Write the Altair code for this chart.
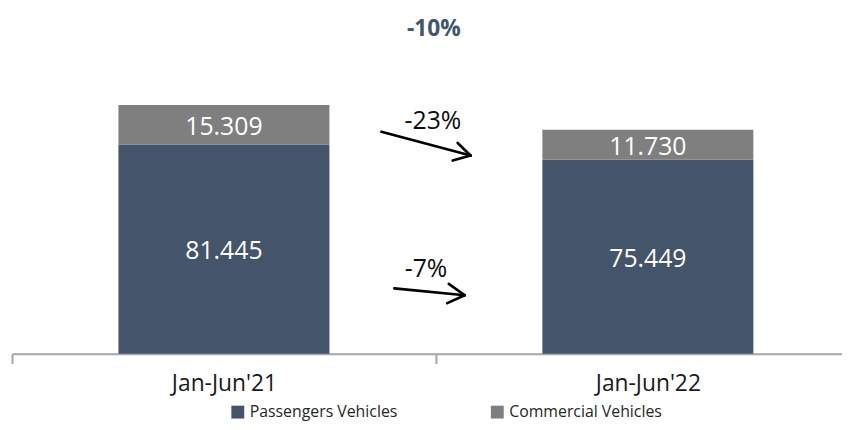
import json
import altair as alt
import pandas as pd

# ---- data ----
categories = ["Jan-Jun'21", "Jan-Jun'22"]
series_names = ["Passengers Vehicles", "Commercial Vehicles"]
passengers = [81445, 75449]
commercial = [15309, 11730]
total_change = "-10%"
segment_changes = ["-7%", "-23%"]  # passengers, commercial

# annotation anchors in data units (x: category units, y: vehicles)
arrow_x0 = [0.902, 0.8715]
arrow_y0 = [25443, 86352]
arrow_x1 = [1.068, 1.0818]
arrow_y1 = [22745, 77100]
head_a_x = [1.0304, 1.0514]
head_a_y = [27178, 81996]
head_b_x = [1.0269, 1.0397]
head_b_y = [19661, 75173]
change_label_x = [0.9766, 0.993]
change_label_y = [32768, 90593]
title_x = 0.9953
title_y = 126444

colors = ["#44546a", "#7f7f7f"]
FONT = "Open Sans"

rows = []
for i, cat in enumerate(categories):
    base = 0
    for j, (name, vals) in enumerate(zip(series_names, [passengers, commercial])):
        v = vals[i]
        rows.append(dict(category=cat, pos=i + 0.5, series=name, order=j,
                         lo=base, hi=base + v, mid=base + v / 2,
                         label=f"{v / 1000:.3f}"))
        base += v
bars_df = pd.DataFrame(rows)

seg_rows = []
for k in range(len(arrow_x0)):
    seg_rows.append(dict(x=arrow_x0[k], y=arrow_y0[k], x2=arrow_x1[k], y2=arrow_y1[k]))
    seg_rows.append(dict(x=head_a_x[k], y=head_a_y[k], x2=arrow_x1[k], y2=arrow_y1[k]))
    seg_rows.append(dict(x=head_b_x[k], y=head_b_y[k], x2=arrow_x1[k], y2=arrow_y1[k]))
seg_df = pd.DataFrame(seg_rows)

lab_df = pd.DataFrame(dict(x=change_label_x, y=change_label_y, text=segment_changes))
title_df = pd.DataFrame(dict(x=[title_x], y=[title_y], text=[total_change]))

W, H = 838, 343
xs = alt.Scale(domain=[0, W / 428], nice=False, zero=False, padding=0)
ys = alt.Scale(domain=[0, 132226], nice=False, padding=0)

label_expr = " : ".join(
    f"datum.value == {i} ? {json.dumps(c)}" for i, c in enumerate(categories)
) + " : ''"

bars = alt.Chart(bars_df).mark_bar(size=213).encode(
    x=alt.X("pos:Q", scale=xs,
            axis=alt.Axis(values=[0, 1], labelExpr=label_expr, title=None,
                          grid=False, domainColor="#a6a6a6", domainWidth=2,
                          tickColor="#a6a6a6", tickWidth=2, tickSize=10,
                          labelOffset=214, labelFlush=False, labelOverlap=False,
                          labelFont=FONT, labelFontSize=23, labelColor="#1a1a1a",
                          labelPadding=9, labelAlign="center", labelBaseline="top")),
    y=alt.Y("lo:Q", scale=ys, axis=None),
    y2="hi:Q",
    color=alt.Color("series:N",
                    scale=alt.Scale(domain=series_names, range=colors),
                    legend=alt.Legend(title=None, orient="none", legendX=220, legendY=394,
                                      direction="horizontal", symbolType="square",
                                      symbolSize=169, symbolStrokeWidth=0,
                                      labelFont=FONT, labelFontSize=16,
                                      labelColor="#262626", columnPadding=92,
                                      labelOffset=4)),
)

bar_text = alt.Chart(bars_df).mark_text(
    font=FONT, fontSize=25, color="white", align="center", baseline="middle", dy=2
).encode(x=alt.X("pos:Q", scale=xs), y=alt.Y("mid:Q", scale=ys), text="label:N")

arrows = alt.Chart(seg_df).mark_rule(color="black", strokeWidth=2.7, strokeCap="round").encode(
    x=alt.X("x:Q", scale=xs), y=alt.Y("y:Q", scale=ys), x2="x2:Q", y2="y2:Q")

arrow_text = alt.Chart(lab_df).mark_text(
    font=FONT, fontSize=25, color="#0d0d0d", align="center", baseline="middle"
).encode(x=alt.X("x:Q", scale=xs), y=alt.Y("y:Q", scale=ys), text="text:N")

title_text = alt.Chart(title_df).mark_text(
    font=FONT, fontSize=23, fontWeight="bold", color="#44546a",
    align="center", baseline="middle"
).encode(x=alt.X("x:Q", scale=xs), y=alt.Y("y:Q", scale=ys), text="text:N")

chart = alt.layer(bars, bar_text, arrows, arrow_text, title_text).properties(
    width=W, height=H,
    autosize=alt.AutoSizeParams(type="none"),
    padding={"left": 4, "top": 4, "right": 0, "bottom": 414 - 4 - H},
).configure_view(stroke=None)

chart.save("out.html", embed_options={"renderer": "svg", "actions": False})
